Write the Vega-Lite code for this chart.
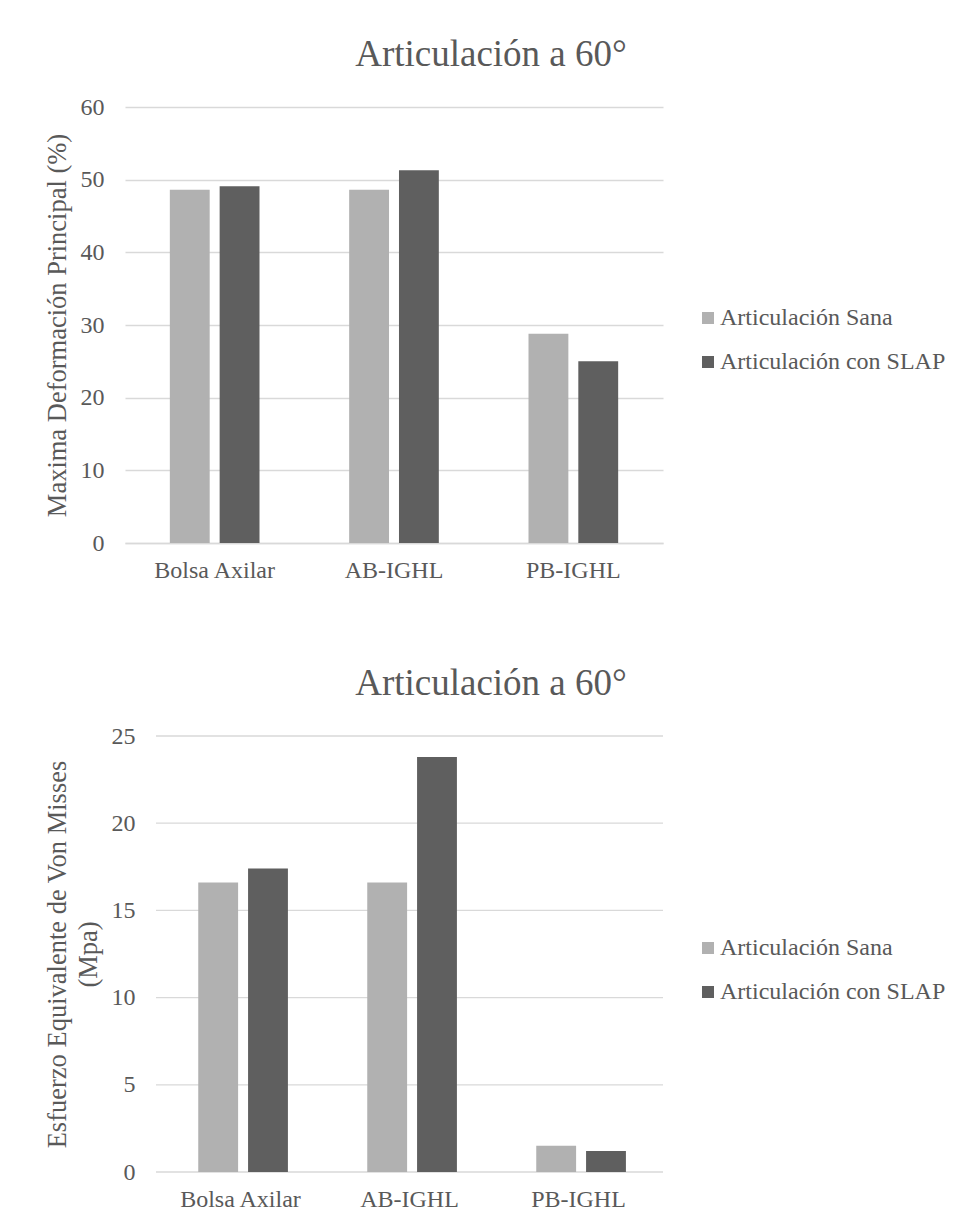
{
  "$schema": "https://vega.github.io/schema/vega-lite/v6.json",
  "padding": {"left": 44, "top": 36, "right": 0, "bottom": 0},
  "background": "white",
  "config": {
    "font": "Liberation Serif",
    "view": {"stroke": null},
    "title": {"font": "Liberation Serif", "fontSize": 37, "fontWeight": "normal", "color": "#595959", "anchor": "middle", "offset": 21, "dx": 97},
    "axis": {
      "labelFont": "Liberation Serif", "labelFontSize": 24, "labelColor": "#595959",
      "titleFont": "Liberation Serif", "titleFontSize": 26.5, "titleFontWeight": "normal", "titleColor": "#595959",
      "ticks": false, "gridColor": "#d9d9d9", "gridWidth": 1.3, "domain": false
    },
    "axisX": {"grid": false, "domain": true, "domainColor": "#d9d9d9", "domainWidth": 1.3, "labelPadding": 15, "labelAngle": 0},
    "axisY": {"labelPadding": 21, "titlePadding": 9, "titleLineHeight": 31},
    "legend": {
      "labelFont": "Liberation Serif", "labelFontSize": 24, "labelColor": "#595959", "labelLimit": 0,
      "symbolType": "square", "symbolSize": 144, "symbolStrokeWidth": 0,
      "rowPadding": 20, "labelOffset": 0, "padding": 0
    }
  },
  "datasets": {
    "deformacion": [
      {"region": "Bolsa Axilar", "serie": "Articulación Sana", "valor": 48.6},
      {"region": "Bolsa Axilar", "serie": "Articulación con SLAP", "valor": 49.1},
      {"region": "AB-IGHL", "serie": "Articulación Sana", "valor": 48.6},
      {"region": "AB-IGHL", "serie": "Articulación con SLAP", "valor": 51.3},
      {"region": "PB-IGHL", "serie": "Articulación Sana", "valor": 28.8},
      {"region": "PB-IGHL", "serie": "Articulación con SLAP", "valor": 25.0}
    ],
    "esfuerzo": [
      {"region": "Bolsa Axilar", "serie": "Articulación Sana", "valor": 16.6},
      {"region": "Bolsa Axilar", "serie": "Articulación con SLAP", "valor": 17.4},
      {"region": "AB-IGHL", "serie": "Articulación Sana", "valor": 16.6},
      {"region": "AB-IGHL", "serie": "Articulación con SLAP", "valor": 23.8},
      {"region": "PB-IGHL", "serie": "Articulación Sana", "valor": 1.5},
      {"region": "PB-IGHL", "serie": "Articulación con SLAP", "valor": 1.2}
    ],
    "rejilla": [
      {"v": 0}, {"v": 5}, {"v": 10}, {"v": 15}, {"v": 20}, {"v": 25}
    ]
  },
  "vconcat": [
    {
      "width": 538,
      "height": 436,
      "title": {"text": "Articulación a 60°"},
      "data": {"name": "deformacion"},
      "mark": {"type": "bar"},
      "encoding": {
        "x": {"field": "region", "type": "nominal", "sort": ["Bolsa Axilar", "AB-IGHL", "PB-IGHL"],
              "scale": {"paddingInner": 0.5, "paddingOuter": 0.25}, "axis": {"title": null}},
        "xOffset": {"field": "serie", "type": "nominal", "sort": ["Articulación Sana", "Articulación con SLAP"],
                    "scale": {"paddingInner": 0.2, "paddingOuter": 0}},
        "y": {"field": "valor", "type": "quantitative", "scale": {"domain": [0, 60]},
              "axis": {"values": [0, 10, 20, 30, 40, 50, 60], "title": "Maxima Deformación Principal (%)"}},
        "color": {"field": "serie", "type": "nominal",
                  "scale": {"domain": ["Articulación Sana", "Articulación con SLAP"], "range": ["#b1b1b1", "#5f5f5f"]},
                  "legend": {"title": null, "orient": "none", "legendX": 571, "legendY": 199}}
      }
    },
    {
      "width": 538,
      "height": 436,
      "title": {"text": "Articulación a 60°"},
      "layer": [
        {
          "data": {"name": "rejilla"},
          "mark": {"type": "rule", "color": "#d9d9d9", "strokeWidth": 1.3},
          "encoding": {
            "y": {"field": "v", "type": "quantitative", "scale": {"domain": [0, 25]},
                  "axis": {"values": [0, 5, 10, 15, 20, 25], "grid": false, "offset": -31, "title": ["Esfuerzo Equivalente de Von Misses", "(Mpa)"]}},
            "x": {"datum": 0, "type": "quantitative", "scale": {"domain": [0, 1], "range": [31, 538]}, "axis": null},
            "x2": {"datum": 1}
          }
        },
        {
          "data": {"name": "esfuerzo"},
          "mark": {"type": "bar"},
          "encoding": {
            "x": {"field": "region", "type": "nominal", "sort": ["Bolsa Axilar", "AB-IGHL", "PB-IGHL"],
                  "scale": {"range": [31, 538], "paddingInner": 0.5, "paddingOuter": 0.25}, "axis": {"title": null, "domain": false}},
            "xOffset": {"field": "serie", "type": "nominal", "sort": ["Articulación Sana", "Articulación con SLAP"],
                        "scale": {"paddingInner": 0.2, "paddingOuter": 0}},
            "y": {"field": "valor", "type": "quantitative", "scale": {"domain": [0, 25]},
                  "axis": {"values": [0, 5, 10, 15, 20, 25], "grid": false, "offset": -31, "title": ["Esfuerzo Equivalente de Von Misses", "(Mpa)"]}},
            "color": {"field": "serie", "type": "nominal",
                      "scale": {"domain": ["Articulación Sana", "Articulación con SLAP"], "range": ["#b1b1b1", "#5f5f5f"]},
                      "legend": {"title": null, "orient": "none", "legendX": 571, "legendY": 200}}
          }
        }
      ],
      "resolve": {"scale": {"x": "independent"}}
    }
  ],
  "spacing": 83,
  "resolve": {"scale": {"color": "independent"}, "legend": {"color": "independent"}}
}
